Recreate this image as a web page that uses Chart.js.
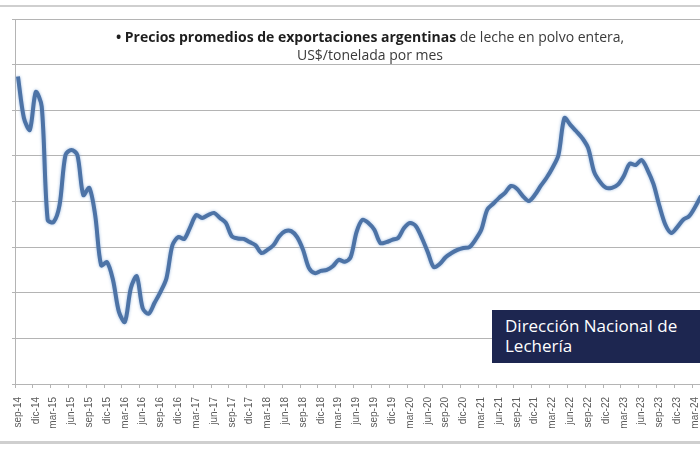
<!DOCTYPE html>
<html>
<head>
<meta charset="utf-8">
<script src="https://cdn.jsdelivr.net/npm/chart.js@4.4.1/dist/chart.umd.min.js"></script>
<style>
    html, body { margin: 0; padding: 0; background: #fff; overflow: hidden; }
    #wrap { position: relative; width: 700px; height: 450px; overflow: hidden; }
    #grafico { position: absolute; left: 0; top: 0; }
    #frame { position: absolute; left: 0; top: 5px; width: 700px; height: 434px;
             border-top: 2px solid #cfcfcf; border-bottom: 3px solid #cfcfcf; pointer-events: none; }
    #titulo { position: absolute; left: 0; top: 28px; width: 740px; text-align: center;
              font-family: "Open Sans", sans-serif; font-size: 14px; line-height: 18px; color: #3a3a3a; }
    #titulo b { color: #1e1e1e; font-weight: 700; }
    #sello { position: absolute; left: 492px; top: 310px; width: 220px; height: 53px;
             background: #1d2650; color: #fff; font-family: "Open Sans", sans-serif;
             font-size: 17px; line-height: 20px; padding: 6px 0 0 13px; box-sizing: border-box; }
</style>
</head>
<body>
<div id="wrap">
    <canvas id="grafico" width="704" height="450"></canvas>
    <div id="frame"></div>
    <div id="titulo"><b>• Precios promedios de exportaciones argentinas</b> de leche en polvo entera,<br>US$/tonelada por mes</div>
    <div id="sello">Dirección Nacional de<br>Lechería</div>
</div>
<script>
// Meses (sep-14 a abr-24)
const MESES = ['ene', 'feb', 'mar', 'abr', 'may', 'jun', 'jul', 'ago', 'sep', 'oct', 'nov', 'dic'];
const INICIO = { mes: 8, anio: 14 };
const N_MESES = 116;

// Precio promedio US$/t
const precios = [
    4870, 4415, 4285, 4700,                                            // 2014
    4540, 3300, 3275, 3460, 4010, 4065, 4010, 3570, 3650, 3350, 2800, 2835, // 2015
    2640, 2290, 2180, 2550, 2680, 2330, 2270, 2390, 2510, 2660, 3020, 3110, // 2016
    3090, 3220, 3350, 3320, 3350, 3375, 3320, 3265, 3120, 3095, 3090, 3055, // 2017
    3020, 2935, 2970, 3020, 3120, 3175, 3175, 3110, 2970, 2770, 2715, 2740, // 2018
    2750, 2790, 2860, 2840, 2890, 3165, 3300, 3265, 3190, 3045, 3055, 3080, // 2019
    3100, 3210, 3265, 3230, 3100, 2945, 2780, 2815, 2890, 2935, 2970, 2990, // 2020
    3000, 3080, 3190, 3410, 3475, 3540, 3595, 3670, 3640, 3560, 3505, 3570, // 2021
    3670, 3760, 3870, 4010, 4415, 4340, 4270, 4195, 4085, 3825, 3715, 3650, // 2022
    3650, 3685, 3780, 3915, 3900, 3955, 3845, 3690, 3450, 3245, 3155, 3220, // 2023
    3300, 3340, 3440, 3560                                             // 2024
];

// Eje Y (las etiquetas quedan fuera del recorte)
const Y_MIN = 1500;
const Y_MAX = 5500;
const Y_PASO = 500;

const etiquetas = [];
for (let i = 0; i < N_MESES; i++) {
    const k = INICIO.mes + i;
    etiquetas.push(`${MESES[k % 12]}-${INICIO.anio + Math.floor(k / 12)}`);
}

const GRIS = '#b4b4b4';

// halo claro alrededor de la línea, como en la planilla original
const halo = {
    id: 'halo',
    beforeDatasetsDraw(chart) {
        const ctx = chart.ctx;
        ctx.save();
        ctx.shadowColor = 'rgba(140,175,220,0.9)';
        ctx.shadowBlur = 3;
    },
    afterDatasetsDraw(chart) {
        chart.ctx.restore();
    }
};

new Chart(document.getElementById('grafico'), {
    type: 'line',
    data: {
        labels: etiquetas,
        datasets: [{
            data: precios,
            borderColor: '#4d73a6',
            borderWidth: 4,
            pointRadius: 0,
            tension: 0.3,
            fill: false
        }]
    },
    options: {
        responsive: false,
        animation: false,
        layout: { padding: { top: 19, right: 0, left: 0, bottom: 0 } },
        plugins: { legend: { display: false }, tooltip: { enabled: false } },
        scales: {
            x: {
                offset: true,
                afterFit: (s) => {
                    s.height = 66;
                    s.paddingLeft = 0;
                    s.paddingRight = 0;
                },
                grid: {
                    offset: true,
                    drawOnChartArea: false,
                    tickLength: 4,
                    color: (ctx) => (ctx.index % 3 === 0 ? GRIS : 'rgba(0,0,0,0)')
                },
                border: { color: GRIS },
                ticks: {
                    autoSkip: false,
                    maxRotation: 90,
                    minRotation: 90,
                    padding: 9,
                    color: '#5a5a5a',
                    font: { family: 'Liberation Sans', size: 10 },
                    callback: (v, i) => (i % 3 === 0 ? etiquetas[i] : '')
                }
            },
            y: {
                min: Y_MIN,
                max: Y_MAX,
                afterFit: (s) => { s.width = 15; },
                grid: { color: GRIS, tickLength: 3 },
                border: { color: GRIS },
                ticks: { stepSize: Y_PASO, display: false }
            }
        }
    },
    plugins: [halo]
});
</script>
</body>
</html>
